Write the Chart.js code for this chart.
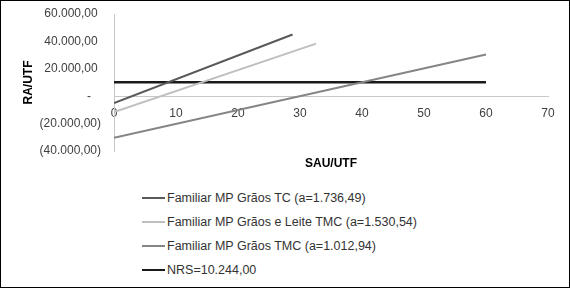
<!DOCTYPE html>
<html>
<head>
<meta charset="utf-8">
<script src="https://cdn.jsdelivr.net/npm/chart.js@4/dist/chart.umd.min.js"></script>
<style>
  html, body { margin: 0; padding: 0; background: #fff; }
  #wrap { position: relative; width: 570px; height: 288px; overflow: hidden; }
  #frame { position: absolute; left: 0; top: 0; width: 570px; height: 288px; box-sizing: border-box; border: 1px solid #000; pointer-events: none; }
  #c { position: absolute; left: 0; top: 0; }
  #legend { position: absolute; left: 142px; top: 186px; font-family: "Liberation Sans", Arial, sans-serif; font-size: 12.5px; color: #333; }
  .item { height: 24px; line-height: 24px; white-space: nowrap; display: flex; align-items: center; }
  .swatch { display: inline-block; width: 23px; margin-right: 2px; }
</style>
</head>
<body>
<div id="wrap">
  <canvas id="c" width="570" height="175"></canvas>
  <div id="legend"></div>
  <div id="frame"></div>
</div>
<script>
// ---- data ----
const seriesNames = [
  "Familiar MP Grãos TC (a=1.736,49)",
  "Familiar MP Grãos e Leite TMC (a=1.530,54)",
  "Familiar MP Grãos TMC (a=1.012,94)",
  "NRS=10.244,00"
];
const sauTC = [0, 28.8];
const raTC = [-5000, 45000];
const sauLeite = [0, 32.6];
const raLeite = [-11500, 38400];
const sauTMC = [0, 60];
const raTMC = [-30400, 30400];
const sauNRS = [0, 60];
const raNRS = [10244, 10244];
const xTicks = [0, 10, 20, 30, 40, 50, 60, 70];
const yTicks = [-40000, -20000, 0, 20000, 40000, 60000];

const colors = ["#595959", "#bfbfbf", "#858585", "#1a1a1a"];
const widths = [2, 2, 2, 2.5];

function pts(xs, ys) { return xs.map((x, i) => ({ x: x, y: ys[i] })); }
const allData = [pts(sauTC, raTC), pts(sauLeite, raLeite), pts(sauTMC, raTMC), pts(sauNRS, raNRS)];

function fmtBR(v) {
  const s = Math.abs(v).toFixed(2);
  let [ip, dp] = s.split(".");
  ip = ip.replace(/\B(?=(\d{3})+(?!\d))/g, ".");
  return ip + "," + dp;
}
function yLabel(v) {
  if (v === 0) return "-   ";
  if (v > 0) return fmtBR(v) + " ";
  return "(" + fmtBR(v) + ")";
}

const font = "'Liberation Sans', Arial, sans-serif";

new Chart(document.getElementById("c"), {
  type: "line",
  data: {
    datasets: allData.map((d, i) => ({
      label: seriesNames[i],
      data: d,
      borderColor: colors[i],
      backgroundColor: colors[i],
      borderWidth: widths[i],
      pointRadius: 0,
      tension: 0,
      fill: false,
      xAxisID: "x",
      yAxisID: "y"
    }))
  },
  options: {
    responsive: false,
    animation: false,
    events: [],
    layout: { padding: { top: 14, right: 22, left: 0, bottom: 0 } },
    plugins: { legend: { display: false }, tooltip: { enabled: false } },
    scales: {
      x: {
        type: "linear",
        position: { y: 0 },
        min: 0, max: 70,
        afterBuildTicks: s => { s.ticks = xTicks.map(v => ({ value: v })); },
        afterFit: s => { s.paddingLeft = 0; s.paddingRight = 0; },
        grid: { display: false, drawTicks: false },
        border: { display: true, color: "#c8c8c8", width: 1 },
        ticks: { padding: 10, color: "#404040", font: { family: font, size: 12 }, maxRotation: 0 }
      },
      x2: {
        type: "linear",
        position: "bottom",
        min: 0, max: 70,
        grid: { display: false, drawTicks: false },
        border: { display: false },
        ticks: { display: false },
        afterFit: s => { s.height = 24; },
        title: { display: true, text: "SAU/UTF", color: "#000", font: { family: font, size: 12, weight: "bold" }, padding: { top: 0, bottom: 4 } }
      },
      y: {
        type: "linear",
        position: "left",
        min: -40000, max: 60000,
        afterBuildTicks: s => { s.ticks = yTicks.map(v => ({ value: v })); },
        afterFit: s => { s.width = 114; s.paddingTop = 0; s.paddingBottom = 0; },
        grid: { display: false, drawTicks: false },
        border: { display: true, color: "#c8c8c8", width: 1 },
        ticks: { padding: 13, color: "#404040", font: { family: font, size: 12 }, callback: v => yLabel(v) },
        title: { display: true, text: "RA/UTF", color: "#000", font: { family: font, size: 12, weight: "bold" }, padding: { top: 21, bottom: 0 } }
      }
    }
  }
});

// HTML legend built from the same series
const lg = document.getElementById("legend");
seriesNames.forEach((n, i) => {
  const row = document.createElement("div");
  row.className = "item";
  const sw = document.createElement("span");
  sw.className = "swatch";
  sw.style.height = widths[i] + "px";
  sw.style.background = colors[i];
  const t = document.createElement("span");
  t.textContent = n;
  row.appendChild(sw);
  row.appendChild(t);
  lg.appendChild(row);
});
</script>
</body>
</html>
